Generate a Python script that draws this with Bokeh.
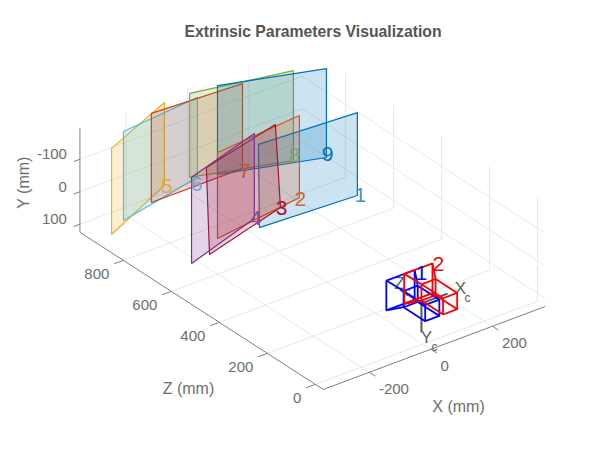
from bokeh.plotting import figure
from bokeh.embed import file_html
from bokeh.resources import INLINE
from bokeh.core.properties import value

TITLE = "Extrinsic Parameters Visualization"
FONT = "Liberation Sans"

# Axis limits (mm)
X_LIM = [-350, 372]
Y_LIM = [-195, 125]
Z_LIM = [-33, 981]
X_TICKS = [-200, 0, 200]
Y_TICKS = [-100, 0, 100]
Z_TICKS = [0, 200, 400, 600, 800]

# Calibration boards: corners in mm (top-left, top-right, bottom-right, bottom-left)
B1_X = [-16, 290, 290, -13]; B1_Y = [-178, -177, 78, 79]; B1_Z = [665, 645, 645, 665]
B2_X = [-122, 164, 164, -122]; B2_Y = [-174, -174.5, 78, 90.5]; B2_Z = [700, 725, 725, 700]
B3_X = [-201, 78, 94.5, -191]; B3_Y = [-182, -182, 79, 89]; B3_Z = [645, 715, 715, 645]
B4_X = [-261, 8, 8, -261]; B4_Y = [-180, -180, 81, 85]; B4_Z = [630, 713, 713, 630]
B5_X = [-326, -76, -76, -326]; B5_Y = [-173, -178, 77.5, 92]; B5_Z = [880, 980, 980, 880]
B6_X = [-256, 4, 4, -256]; B6_Y = [-181, -182, 64, 93]; B6_Z = [920, 945, 945, 920]
B7_X = [-142, 142, 142, -142]; B7_Y = [-182, -181, 80, 92]; B7_Z = [950, 934, 934, 950]
B8_X = [-2, 285, 285, -2]; B8_Y = [-184.5, -184, 92.6, 74]; B8_Z = [970, 905, 905, 970]
B9_X = [81, 359.5, 359.5, 81]; B9_Y = [-184, -184, 89.5, 89.5]; B9_Z = [960, 863, 863, 960]

# Board label anchors (mm)
LABEL_NAMES = ["1", "2", "3", "4", "5", "6", "7", "8", "9"]
LABEL_X = [300, 167, 98, 12, -69, 1, 148.5, 288, 363]
LABEL_Y = [78.5, 82, 83, 82.5, 80, 82, 89, 78, 78.5]
LABEL_Z = [645, 725, 715, 713, 980, 945, 934, 905, 863]
LABEL_COLORS = ["#3F93CC", "#C9683C", "#A2142F", "#8A4A9C", "#E0AC3C",
                "#6BA6D8", "#C8503A", "#7FA370", "#0072BD"]
BOARD_COLORS = ["#0072BD", "#D95319", "#A2142F", "#7E2F8E", "#EDB120",
                "#4DBEEE", "#C8421E", "#77AC30", "#0072BD"]

# Cameras (mm)
BODY_X = [-28, 18]; BODY_Y = [-27, 23]; BODY_Z = [45, -45]
LENS_X = [-49, 43]; LENS_Y = [-45, 47]; LENS_Z = 90
CAM_SHIFTS = [0, 58]
CAM_COLORS = ["#0000FF", "#FF0000"]
CAM_NAMES = ["1", "2"]
CAM_LABEL_X = [65, 120.5]; CAM_LABEL_Y = [-29, -34.5]; CAM_LABEL_Z = [90, 90]

# Camera reference axes (mm)
ORIGIN = (-5, -2, 0)
XC_END = (80, -2, 0)
YC_END = (-5, 87, 0)
ZC_END = (-5, -2, 90)


def U(x, y, z):
    return 422.5 + 0.3075 * x - 0.24 * z


def V(x, y, z):
    return 303 - 0.115 * x + 0.325 * y - 0.155 * z


def P(pts):
    return [U(*q) for q in pts], [V(*q) for q in pts]


p = figure(width=586, height=435, x_range=(0, 586), y_range=(435, 0),
           output_backend="svg", toolbar_location=None, min_border=0,
           outline_line_color=None, background_fill_color="white")
p.axis.visible = False
p.grid.visible = False

GRID = "#E9E9E9"
AX = "#808080"
TXT = "#6E6E6E"
xa, xb = X_LIM
ya, yb = Y_LIM
za, zb = Z_LIM


def seg(a, b, color, w=1.0):
    xs, ys = P([a, b])
    p.line(xs, ys, line_color=color, line_width=w)


for x in X_TICKS:
    seg((x, yb, za), (x, yb, zb), GRID)
    seg((x, yb, zb), (x, ya, zb), GRID)
for z in Z_TICKS:
    seg((xa, yb, z), (xb, yb, z), GRID)
    seg((xb, yb, z), (xb, ya, z), GRID)
for y in Y_TICKS:
    seg((xa, y, zb), (xb, y, zb), GRID)
    seg((xb, y, zb), (xb, y, za), GRID)

seg((xa, yb, za), (xb, yb, za), AX)
seg((xa, yb, za), (xa, yb, zb), AX)
seg((xa, yb, zb), (xa, ya, zb), AX)
for x in X_TICKS:
    seg((x, yb, za), (x, yb, za - 25), AX)
for z in Z_TICKS:
    seg((xa, yb, z), (xa - 30, yb, z), AX)
for y in Y_TICKS:
    seg((xa, y, zb), (xa - 20, y, zb), AX)


def labels(xs, ys, texts, align, dx=0, dy=0, size="15px", color=TXT, **kw):
    p.text(xs, ys, text=texts, text_align=align, text_baseline="middle",
           x_offset=dx, y_offset=dy, text_font=value(FONT),
           text_font_size=size, text_color=color, **kw)


xs, ys = P([(x, yb, za) for x in X_TICKS])
labels(xs, ys, [str(t) for t in X_TICKS], "left", 9.5, 17)
xs, ys = P([(xa, yb, z) for z in Z_TICKS])
labels(xs, ys, [str(t) for t in Z_TICKS], "right", -14, 14)
xs, ys = P([(xa, y, zb) for y in Y_TICKS])
labels(xs, ys, [str(t) for t in Y_TICKS], "right", -13, -5)

p.text([312.5], [31], text=[TITLE], text_align="center", text_baseline="middle",
       text_font=value(FONT), text_font_style="bold", text_font_size="15.75px",
       text_color="#555555")
labels([458], [406], ["X (mm)"], "center", size="16px")
labels([188], [388], ["Z (mm)"], "center", size="16px")
labels([23], [182], ["Y (mm)"], "center", size="16px", angle=1.5708)

# Boards, far ones first
boards = [(B1_X, B1_Y, B1_Z), (B2_X, B2_Y, B2_Z), (B3_X, B3_Y, B3_Z),
          (B4_X, B4_Y, B4_Z), (B5_X, B5_Y, B5_Z), (B6_X, B6_Y, B6_Z),
          (B7_X, B7_Y, B7_Z), (B8_X, B8_Y, B8_Z), (B9_X, B9_Y, B9_Z)]
for i in [4, 5, 6, 7, 8, 0, 1, 2, 3]:
    bx, by, bz = boards[i]
    xs, ys = P(list(zip(bx, by, bz)))
    p.patch(xs, ys, fill_color=BOARD_COLORS[i], fill_alpha=0.2,
            line_color=BOARD_COLORS[i], line_width=1.2)

xs, ys = P(list(zip(LABEL_X, LABEL_Y, LABEL_Z)))
p.text(xs, ys, text=LABEL_NAMES, text_align="center", text_baseline="middle",
       text_font=value(FONT), text_font_size="21px",
       text_color=LABEL_COLORS)

# Camera axes
for end in (XC_END, YC_END, ZC_END):
    seg(ORIGIN, end, "#555555", 2)
for txt, sub, (ux, vy), (sx, sy) in [
        ("X", "c", (460, 288), (467, 297)),
        ("Y", "c", (426, 337), (434, 346)),
        ("Z", "c", (399, 283), (407, 291))]:
    labels([ux], [vy], [txt], "center", size="17px", color="#606060")
    labels([sx], [sy], [sub], "center", size="12px", color="#606060")

# Cameras
for shift, col in zip(CAM_SHIFTS, CAM_COLORS):
    bl, br = BODY_X[0] + shift, BODY_X[1] + shift
    ll, lr = LENS_X[0] + shift, LENS_X[1] + shift
    yt, yd = BODY_Y
    lt, ld = LENS_Y
    zf, zr = BODY_Z
    for z in (zf, zr):
        xs, ys = P([(bl, yt, z), (br, yt, z), (br, yd, z), (bl, yd, z), (bl, yt, z)])
        p.line(xs, ys, line_color=col, line_width=1.8)
    for a, b in [(bl, yt), (br, yt), (br, yd), (bl, yd)]:
        seg((a, b, zf), (a, b, zr), col, 1.8)
    xs, ys = P([(ll, lt, LENS_Z), (lr, lt, LENS_Z), (lr, ld, LENS_Z),
                (ll, ld, LENS_Z), (ll, lt, LENS_Z)])
    p.line(xs, ys, line_color=col, line_width=1.8)
    for a, b, c, d in [(bl, yt, ll, lt), (br, yt, lr, lt), (br, yd, lr, ld), (bl, yd, ll, ld)]:
        seg((a, b, zf), (c, d, LENS_Z), col, 1.8)

xs, ys = P(list(zip(CAM_LABEL_X, CAM_LABEL_Y, CAM_LABEL_Z)))
p.text(xs, ys, text=CAM_NAMES, text_align="center", text_baseline="middle",
       text_font=value(FONT), text_font_size="21px", text_color=CAM_COLORS)

open("out.html", "w").write(file_html(p, INLINE))
